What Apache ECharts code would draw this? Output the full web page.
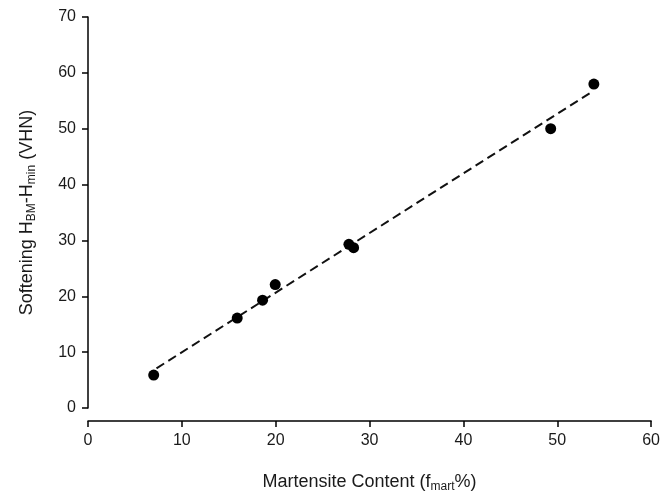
<!DOCTYPE html>
<html>
<head>
<meta charset="utf-8">
<script src="https://cdn.jsdelivr.net/npm/echarts@6/dist/echarts.min.js"></script>
<style>html,body{margin:0;padding:0;background:#fff}#c{width:663px;height:498px}</style>
</head>
<body>
<div id="c"></div>
<script>
const martensite = [7.0, 15.9, 18.6, 19.95, 27.8, 28.3, 49.3, 53.9];
const softening = [5.9, 16.1, 19.3, 22.1, 29.3, 28.7, 50.0, 58.0];
const trendX = [7.3, 53.5];
const trendY = [7.1, 56.4];
const xTicks = [0, 10, 20, 30, 40, 50, 60];
const yTicks = [0, 10, 20, 30, 40, 50, 60, 70];

const FONT = 'Liberation Sans, Arial, sans-serif';
const TXT = '#1a1a1a';
const chart = echarts.init(document.getElementById('c'));
chart.setOption({
  animation: false,
  backgroundColor: '#fff',
  grid: {left: 88, right: 11, top: 17, bottom: 89},
  xAxis: {
    type: 'value', min: xTicks[0], max: xTicks[xTicks.length - 1], interval: 10,
    offset: 13,
    axisLine: {show: true, onZero: false, lineStyle: {color: '#000', width: 1.5}},
    axisTick: {show: true, length: 6, lineStyle: {color: '#000', width: 1.5}},
    splitLine: {show: false},
    axisLabel: {fontFamily: FONT, fontSize: 16, color: TXT, margin: 12},
    name: 'Martensite Content (f{sub|mart}%)',
    nameLocation: 'middle', nameGap: 51,
    nameTextStyle: {fontFamily: FONT, fontSize: 18, color: TXT,
      rich: {sub: {fontFamily: FONT, fontSize: 12, color: TXT, verticalAlign: 'bottom', padding: [9, 0, 0, 0]}}}
  },
  yAxis: {
    type: 'value', min: yTicks[0], max: yTicks[yTicks.length - 1], interval: 10,
    axisLine: {show: true, onZero: false, lineStyle: {color: '#000', width: 1.5}},
    axisTick: {show: true, length: 6, lineStyle: {color: '#000', width: 1.5}},
    splitLine: {show: false},
    axisLabel: {fontFamily: FONT, fontSize: 16, color: TXT, margin: 12},
    name: 'Softening H{sub|BM}-H{sub|min} (VHN)',
    nameLocation: 'middle', nameGap: 50, nameRotate: 90,
    nameTextStyle: {fontFamily: FONT, fontSize: 18, color: TXT,
      rich: {sub: {fontFamily: FONT, fontSize: 12, color: TXT, verticalAlign: 'bottom', padding: [9, 0, 0, 0]}}}
  },
  series: [
    {
      type: 'line', data: trendX.map((x, i) => [x, trendY[i]]),
      showSymbol: false, symbol: 'none',
      lineStyle: {color: '#111', width: 2, type: [9, 5]}, z: 2
    },
    {
      type: 'scatter', data: martensite.map((x, i) => [x, softening[i]]),
      symbol: 'circle', symbolSize: 11,
      itemStyle: {color: '#000', opacity: 1}, z: 3
    }
  ]
});
</script>
</body>
</html>
